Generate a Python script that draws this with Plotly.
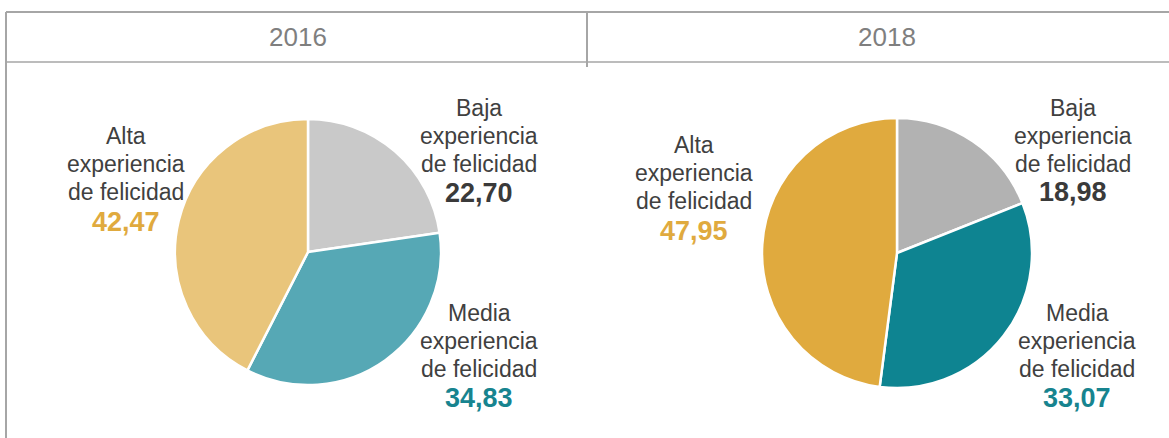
import plotly.graph_objects as go

W, H = 1169, 438

years = ["2016", "2018"]
categories = ["Baja experiencia de felicidad",
              "Media experiencia de felicidad",
              "Alta experiencia de felicidad"]
label_lines = [["Baja", "experiencia", "de felicidad"],
               ["Media", "experiencia", "de felicidad"],
               ["Alta", "experiencia", "de felicidad"]]
values_2016 = [22.70, 34.83, 42.47]
values_2018 = [18.98, 33.07, 47.95]

colors_2016 = ["#C9C9C9", "#56A8B5", "#E9C57B"]
colors_2018 = ["#B2B2B2", "#0E8491", "#E0AA3E"]
value_colors = ["#3A3A3A", "#17848F", "#E0AA3E"]

FONT = "Liberation Sans, Arial"


def px(x):
    return x / W


def py(y):
    return 1 - y / H


fig = go.Figure()

pie_boxes = [((175, 441), (119, 385)), ((762, 1032), (118, 388))]
for vals, cols, (bx, by) in zip([values_2016, values_2018],
                                [colors_2016, colors_2018], pie_boxes):
    fig.add_trace(go.Pie(
        labels=categories, values=vals, sort=False,
        direction="clockwise", rotation=0,
        marker=dict(colors=cols, line=dict(color="white", width=2.5)),
        textinfo="none", hoverinfo="label+value",
        domain=dict(x=[px(bx[0]), px(bx[1])], y=[py(by[1]), py(by[0])]),
        showlegend=False,
    ))

annotations = []
for yr, xc in zip(years, [298, 887]):
    annotations.append(dict(x=px(xc), y=py(37), xref="paper", yref="paper",
                            text=yr, showarrow=False,
                            font=dict(family=FONT, size=26, color="#7F7F7F"),
                            xanchor="center", yanchor="middle"))

# (x center, first line y, value y) per category per year
label_pos = {
    0: [(479, 108, 193), (479, 313, 398), (126, 136, 222)],
    1: [(1073, 108, 192), (1077, 313, 398), (694, 145, 231)],
}
step = 28
for yi, vals in enumerate([values_2016, values_2018]):
    for ci, v in enumerate(vals):
        xc, y0, yv = label_pos[yi][ci]
        for li, line in enumerate(label_lines[ci]):
            annotations.append(dict(x=px(xc), y=py(y0 + li * step), xref="paper", yref="paper",
                                    text=line, showarrow=False,
                                    font=dict(family=FONT, size=23, color="#404040"),
                                    xanchor="center", yanchor="middle"))
        annotations.append(dict(x=px(xc), y=py(yv), xref="paper", yref="paper",
                                text="<b>" + f"{v:.2f}".replace(".", ",") + "</b>", showarrow=False,
                                font=dict(family=FONT, size=27, color=value_colors[ci]),
                                xanchor="center", yanchor="middle"))

line_col = "#A6A6A6"
shapes = [
    dict(type="line", xref="paper", yref="paper", x0=px(6), x1=px(1169), y0=py(12), y1=py(12),
         line=dict(color=line_col, width=2)),
    dict(type="line", xref="paper", yref="paper", x0=px(6), x1=px(1169), y0=py(62), y1=py(62),
         line=dict(color=line_col, width=1.5)),
    dict(type="line", xref="paper", yref="paper", x0=px(6), x1=px(6), y0=py(12), y1=py(438),
         line=dict(color=line_col, width=2)),
    dict(type="line", xref="paper", yref="paper", x0=px(587), x1=px(587), y0=py(12), y1=py(67),
         line=dict(color=line_col, width=2)),
]

fig.update_layout(
    width=W, height=H,
    margin=dict(l=0, r=0, t=0, b=0),
    paper_bgcolor="white", plot_bgcolor="white",
    annotations=annotations, shapes=shapes,
    font=dict(family=FONT),
)

fig.write_html("out.html", config={"displayModeBar": False},
               post_script="document.body.style.margin='0';")
